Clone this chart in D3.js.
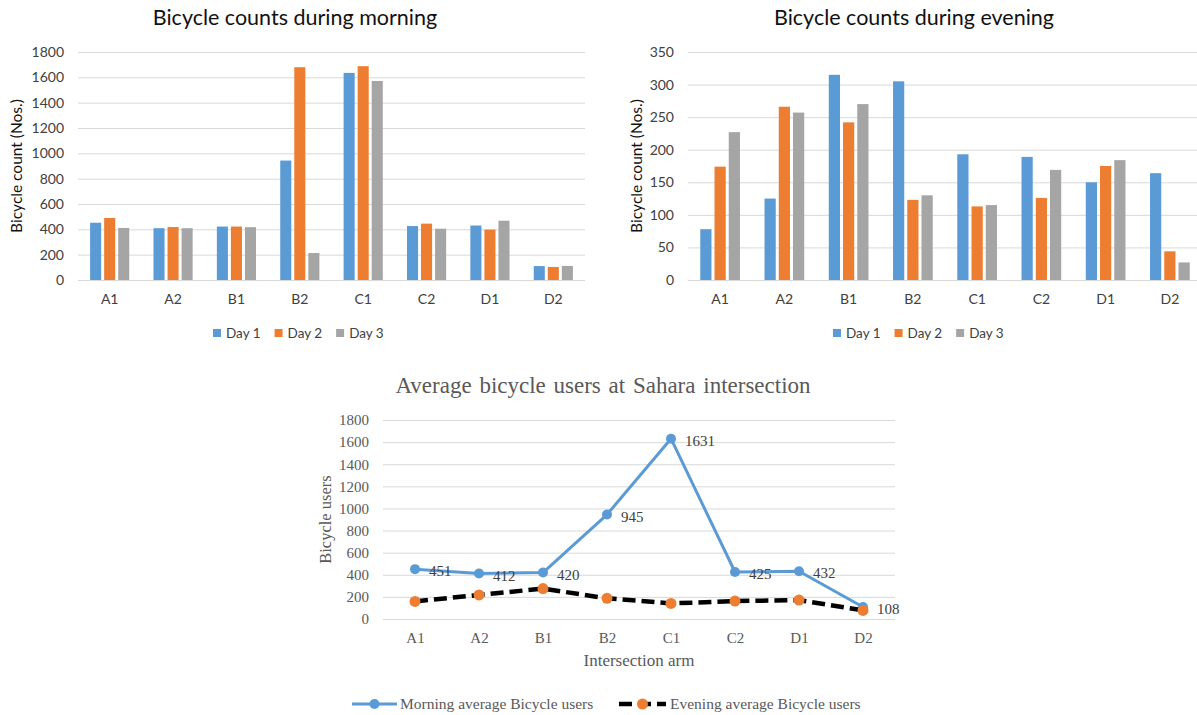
<!DOCTYPE html>
<html>
<head>
<meta charset="utf-8">
<script src="https://cdn.jsdelivr.net/npm/d3@7"></script>
<style>
  html, body { margin: 0; padding: 0; background: #ffffff; }
  svg { display: block; }
</style>
</head>
<body>
<svg id="chart" width="1197" height="715"></svg>
<script>
// Intersection arms (shared by all three charts)
const categories = ["A1", "A2", "B1", "B2", "C1", "C2", "D1", "D2"];
const seriesNames = ["Day 1", "Day 2", "Day 3"];

// Morning counts per day
const morningDay1 = [452, 409, 422, 943, 1635, 426, 430, 110];
const morningDay2 = [490, 418, 422, 1680, 1688, 445, 398, 103];
const morningDay3 = [411, 409, 417, 213, 1571, 405, 468, 111];

// Evening counts per day
const eveningDay1 = [78, 125, 315, 305, 193, 189, 150, 164];
const eveningDay2 = [174, 266, 242, 123, 113, 126, 175, 44];
const eveningDay3 = [227, 257, 270, 130, 115, 169, 184, 27];

// Averages over the three days
const morningAverage = [451, 412, 420, 945, 1631, 425, 432, 108];
const eveningAverage = [159, 218, 275, 187, 141, 162, 171, 78];

// Axis ticks
const morningTicks = [0, 200, 400, 600, 800, 1000, 1200, 1400, 1600, 1800];
const eveningTicks = [0, 50, 100, 150, 200, 250, 300, 350];
const averageTicks = [0, 200, 400, 600, 800, 1000, 1200, 1400, 1600, 1800];

const dayColors = ["#5B9BD5", "#ED7D31", "#A5A5A5"];
const gridColor = "#D9D9D9";
const sansFont = "Lato, 'Noto Sans', sans-serif";
const serifFont = "'Liberation Serif', 'DejaVu Serif', serif";

const svg = d3.select("#chart");
svg.append("rect").attr("width", 1197).attr("height", 715).attr("fill", "#ffffff");

function barChart(opts) {
  const { left, right, top, bottom, maxY, ticks, series, title, titleX, legendX, yTitleX } = opts;
  const g = svg.append("g");

  const x0 = d3.scaleBand().domain(categories).range([left, right]).paddingInner(0).paddingOuter(0);
  const y = d3.scaleLinear().domain([0, maxY]).range([bottom, top]);
  const groupW = x0.bandwidth() * 0.6178;
  const x1 = d3.scaleBand().domain(seriesNames).range([0, groupW]).paddingInner(0.27 / 1.27).paddingOuter(0);

  // gridlines + value labels
  const yAxis = d3.axisLeft(y).tickValues(ticks).tickSize(-(right - left)).tickPadding(14).tickFormat(d3.format("d"));
  const ya = g.append("g").attr("transform", `translate(${left},0)`).call(yAxis);
  ya.select(".domain").remove();
  ya.selectAll(".tick line").attr("stroke", gridColor).attr("stroke-width", 1);
  ya.selectAll(".tick text").attr("fill", "#404040").style("font-family", sansFont).style("font-size", "14px");

  // category labels
  const xAxis = d3.axisBottom(x0).tickSize(0).tickPadding(14);
  const xa = g.append("g").attr("transform", `translate(0,${bottom})`).call(xAxis);
  xa.select(".domain").remove();
  xa.selectAll(".tick text").attr("fill", "#404040").style("font-family", sansFont).style("font-size", "14px");

  // bars
  const groups = g.append("g").selectAll("g").data(categories).join("g")
    .attr("transform", d => `translate(${x0(d) + (x0.bandwidth() - groupW) / 2},0)`);
  groups.selectAll("rect")
    .data((c, i) => seriesNames.map((s, k) => ({ s, k, v: series[k][i] })))
    .join("rect")
    .attr("x", d => x1(d.s))
    .attr("width", x1.bandwidth())
    .attr("y", d => y(d.v))
    .attr("height", d => y(0) - y(d.v))
    .attr("fill", d => dayColors[d.k]);

  // title
  g.append("text").attr("x", titleX).attr("y", 25).attr("text-anchor", "middle")
    .style("font-family", sansFont).style("font-size", "21.5px").attr("fill", "#111111").text(title);

  // y-axis title
  g.append("text").attr("transform", `translate(${yTitleX},${(top + bottom) / 2}) rotate(-90)`)
    .attr("text-anchor", "middle").attr("dy", "0.35em")
    .style("font-family", sansFont).style("font-size", "15.5px").attr("fill", "#111111")
    .text("Bicycle count (Nos.)");

  // legend
  const lg = g.append("g").attr("transform", `translate(${legendX},333)`);
  let cx = 0;
  seriesNames.forEach((s, k) => {
    lg.append("rect").attr("x", cx).attr("y", -4).attr("width", 8).attr("height", 8).attr("fill", dayColors[k]);
    const t = lg.append("text").attr("x", cx + 13).attr("dy", "0.35em")
      .style("font-family", sansFont).style("font-size", "13.5px").attr("fill", "#404040").text(s);
    cx += 13 + t.node().getComputedTextLength() + 14;
  });
}

barChart({
  left: 78, right: 585, top: 52, bottom: 280, maxY: 1800, ticks: morningTicks,
  series: [morningDay1, morningDay2, morningDay3],
  title: "Bicycle counts during morning", titleX: 295, legendX: 213, yTitleX: 17
});

barChart({
  left: 688, right: 1202, top: 52, bottom: 280, maxY: 350, ticks: eveningTicks,
  series: [eveningDay1, eveningDay2, eveningDay3],
  title: "Bicycle counts during evening", titleX: 914, legendX: 833, yTitleX: 637
});

// ---- Average line chart ----
(function () {
  const left = 383, right = 895, top = 420, bottom = 619;
  const g = svg.append("g");
  const x = d3.scalePoint().domain(categories).range([left, right]).padding(0.5);
  const y = d3.scaleLinear().domain([0, 1800]).range([bottom, top]);
  const textColor = "#595959";

  const yAxis = d3.axisLeft(y).tickValues(averageTicks).tickSize(-(right - left)).tickPadding(14).tickFormat(d3.format("d"));
  const ya = g.append("g").attr("transform", `translate(${left},0)`).call(yAxis);
  ya.select(".domain").remove();
  ya.selectAll(".tick line").attr("stroke", gridColor).attr("stroke-width", 1);
  ya.selectAll(".tick text").attr("fill", textColor).style("font-family", serifFont).style("font-size", "15px");

  const xAxis = d3.axisBottom(x).tickSize(0).tickPadding(13);
  const xa = g.append("g").attr("transform", `translate(0,${bottom})`).call(xAxis);
  xa.select(".domain").remove();
  xa.selectAll(".tick text").attr("fill", textColor).style("font-family", serifFont).style("font-size", "15px");

  const line = d3.line().x((d, i) => x(categories[i])).y(d => y(d));

  // morning series
  g.append("path").datum(morningAverage).attr("d", line)
    .attr("fill", "none").attr("stroke", "#5B9BD5").attr("stroke-width", 3).attr("stroke-linejoin", "round");
  g.append("g").selectAll("circle").data(morningAverage).join("circle")
    .attr("cx", (d, i) => x(categories[i])).attr("cy", d => y(d)).attr("r", 5).attr("fill", "#5B9BD5");
  g.append("g").selectAll("text").data(morningAverage).join("text")
    .attr("x", (d, i) => x(categories[i]) + 14).attr("y", d => y(d) + 2).attr("dy", "0.35em")
    .style("font-family", serifFont).style("font-size", "15px").attr("fill", "#404040")
    .text(d => d);

  // evening series
  g.append("path").datum(eveningAverage).attr("d", line)
    .attr("fill", "none").attr("stroke", "#000000").attr("stroke-width", 4.5).attr("stroke-dasharray", "13,6");
  g.append("g").selectAll("circle").data(eveningAverage).join("circle")
    .attr("cx", (d, i) => x(categories[i])).attr("cy", d => y(d)).attr("r", 5.5).attr("fill", "#ED7D31");

  // title
  g.append("text").attr("x", 603).attr("y", 393).attr("text-anchor", "middle")
    .style("font-family", serifFont).style("font-size", "23px").style("word-spacing", "2px")
    .attr("fill", textColor).text("Average bicycle users at Sahara intersection");

  // axis titles
  g.append("text").attr("x", (left + right) / 2).attr("y", 660).attr("dy", "0.35em").attr("text-anchor", "middle")
    .style("font-family", serifFont).style("font-size", "17px").attr("fill", textColor).text("Intersection arm");
  g.append("text").attr("transform", `translate(325,${(top + bottom) / 2}) rotate(-90)`)
    .attr("text-anchor", "middle").attr("dy", "0.35em")
    .style("font-family", serifFont).style("font-size", "16.5px").attr("fill", textColor).text("Bicycle users");

  // legend
  const ly = 704;
  const lg = g.append("g");
  lg.append("line").attr("x1", 352).attr("x2", 397).attr("y1", ly).attr("y2", ly)
    .attr("stroke", "#5B9BD5").attr("stroke-width", 3);
  lg.append("circle").attr("cx", 374.5).attr("cy", ly).attr("r", 5).attr("fill", "#5B9BD5");
  lg.append("text").attr("x", 400).attr("y", ly).attr("dy", "0.35em")
    .style("font-family", serifFont).style("font-size", "15.5px").attr("fill", textColor)
    .text("Morning average Bicycle users");
  lg.append("line").attr("x1", 619).attr("x2", 666).attr("y1", ly).attr("y2", ly)
    .attr("stroke", "#000000").attr("stroke-width", 4.5).attr("stroke-dasharray", "13,6");
  lg.append("circle").attr("cx", 642.5).attr("cy", ly).attr("r", 5.5).attr("fill", "#ED7D31");
  lg.append("text").attr("x", 670).attr("y", ly).attr("dy", "0.35em")
    .style("font-family", serifFont).style("font-size", "15.5px").attr("fill", textColor)
    .text("Evening average Bicycle users");
})();
</script>
</body>
</html>
